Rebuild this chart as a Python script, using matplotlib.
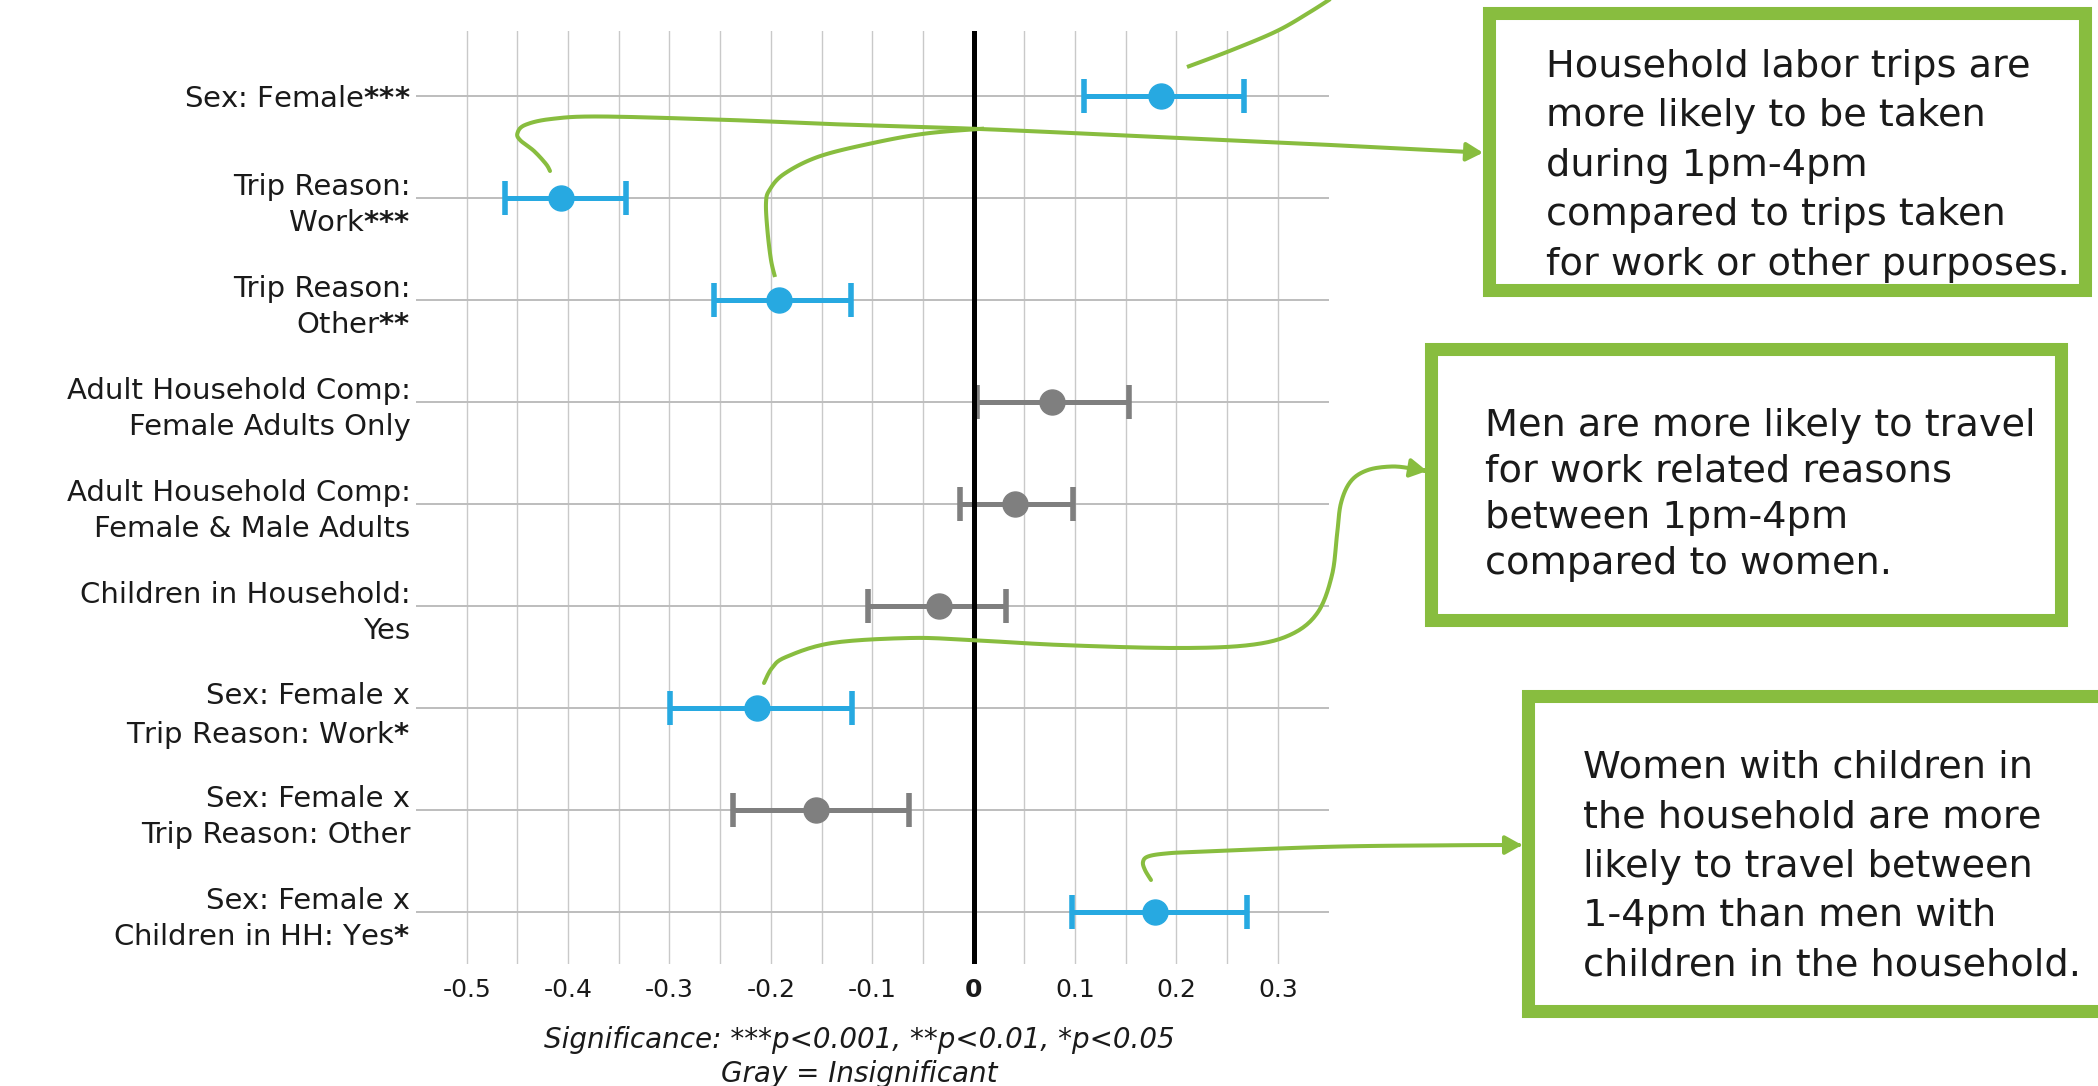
import numpy as np
import matplotlib.pyplot as plt
from matplotlib.patches import Rectangle, FancyArrowPatch
from matplotlib.path import Path
from matplotlib.transforms import Affine2D
from matplotlib.lines import Line2D

# ---- data ----
labels = [
    "Sex: Female$\\mathbf{{*}{*}{*}}$",
    "Trip Reason:\nWork$\\mathbf{{*}{*}{*}}$",
    "Trip Reason:\nOther$\\mathbf{{*}{*}}$",
    "Adult Household Comp:\nFemale Adults Only",
    "Adult Household Comp:\nFemale & Male Adults",
    "Children in Household:\nYes",
    "Sex: Female x\nTrip Reason: Work$\\mathbf{{*}}$",
    "Sex: Female x\nTrip Reason: Other",
    "Sex: Female x\nChildren in HH: Yes$\\mathbf{{*}}$",
]
coef = [0.185, -0.407, -0.192, 0.077, 0.041, -0.034, -0.214, -0.155, 0.179]
ci_low = [0.109, -0.462, -0.256, 0.003, -0.013, -0.104, -0.299, -0.237, 0.097]
ci_high = [0.267, -0.343, -0.121, 0.153, 0.098, 0.032, -0.120, -0.064, 0.270]
significant = [True, True, True, False, False, False, True, False, True]

xticks = [-0.5, -0.4, -0.3, -0.2, -0.1, 0, 0.1, 0.2, 0.3]
xticklabels = ["-0.5", "-0.4", "-0.3", "-0.2", "-0.1", "0", "0.1", "0.2", "0.3"]
xminor = [-0.45, -0.35, -0.25, -0.15, -0.05, 0.05, 0.15, 0.25]

notes = [
    "Household labor trips are\nmore likely to be taken\nduring 1pm-4pm\ncompared to trips taken\nfor work or other purposes.",
    "Men are more likely to travel\nfor work related reasons\nbetween 1pm-4pm\ncompared to women.",
    "Women with children in\nthe household are more\nlikely to travel between\n1-4pm than men with\nchildren in the household.",
]
caption = "Significance: ***p<0.001, **p<0.01, *p<0.05\nGray = Insignificant"

BLUE = "#27A9E1"
GRAY = "#7F7F7F"
GREEN = "#88BD3F"
TXT = "#1a1a1a"

W, H = 2098, 1086
plt.rcParams["font.family"] = ["DejaVu Sans"]
plt.rcParams["mathtext.fontset"] = "dejavusans"

fig = plt.figure(figsize=(W / 100, H / 100), dpi=100)
ax = fig.add_axes([416 / W, 1 - 964 / H, (1328.5 - 416) / W, (964 - 31) / H])

rows = np.arange(len(labels))
for i in rows:
    c = BLUE if significant[i] else GRAY
    ax.errorbar(coef[i], i, xerr=[[coef[i] - ci_low[i]], [ci_high[i] - coef[i]]],
                fmt="o", color=c, ms=18, elinewidth=3.6, capsize=12, capthick=4, zorder=4)

ax.axvline(0, color="black", lw=3.6, zorder=5)

ax.set_xlim(-0.55, 0.35)
ax.set_ylim(8.506, -0.641)
ax.set_yticks(rows, labels=labels, fontsize=21, color=TXT)
for t in ax.get_yticklabels():
    t.set_linespacing(1.34)
ax.set_xticks(xticks, labels=xticklabels, fontsize=18, color=TXT)
ax.set_xticks(xminor, minor=True)
ax.get_xticklabels()[5].set_fontweight("bold")
ax.tick_params(axis="both", which="both", length=0)
ax.tick_params(axis="x", pad=10)
ax.tick_params(axis="y", pad=4)
ax.grid(axis="x", which="both", color="#c9c9c9", lw=1.0, zorder=0)
ax.grid(axis="y", color="#bdbdbd", lw=1.4, zorder=0)
ax.set_axisbelow(True)
for s in ax.spines.values():
    s.set_visible(False)

fig.text(859 / W, 1 - 1057 / H, caption, ha="center", va="center", style="italic",
         fontsize=20, color=TXT, linespacing=1.25)

# ---- callouts (figure pixel coords, y from top) ----
tr = Affine2D().scale(1 / W, -1 / H).translate(0, 1) + fig.transFigure


def smooth(pts, n=14):
    p = np.array(pts, float)
    p = np.vstack([p[0], p, p[-1]])
    out = []
    t = np.linspace(0, 1, n, endpoint=False)[:, None]
    for k in range(1, len(p) - 2):
        p0, p1, p2, p3 = p[k - 1], p[k], p[k + 1], p[k + 2]
        out.append(0.5 * (2 * p1 + (-p0 + p2) * t + (2 * p0 - 5 * p1 + 4 * p2 - p3) * t ** 2
                          + (-p0 + 3 * p1 - 3 * p2 + p3) * t ** 3))
    out.append(p[-2][None])
    return np.vstack(out)


def curve(pts, arrow=False):
    v = smooth(pts)
    if arrow:
        fig.add_artist(FancyArrowPatch(path=Path(v), arrowstyle="-|>,head_length=0.5,head_width=0.28",
                                       mutation_scale=20, color=GREEN, lw=2.9, transform=tr, zorder=6))
    else:
        fig.add_artist(Line2D(v[:, 0], v[:, 1], color=GREEN, lw=2.9, transform=tr, zorder=6,
                              solid_capstyle="butt"))


curve([(1187, 67), (1232, 50), (1277, 31), (1310, 12), (1338, -6)])
curve([(550, 171), (546, 164), (534, 151), (520, 140), (517.5, 133), (525, 125), (551, 119),
       (601, 116.5), (730, 120), (837, 124.3), (970, 128.6), (1100, 134.3), (1300, 143.5),
       (1483, 152.7)], arrow=True)
curve([(775, 277), (771, 260), (767.5, 231), (766, 203), (769.5, 190), (784, 174), (819, 156.5),
       (873, 143), (926, 133.5), (984, 128.6)])
curve([(764, 683), (772, 668), (786, 657), (832, 643), (910, 638), (970, 640), (1061, 645),
       (1176, 648), (1250, 645), (1292, 634), (1318, 612), (1332, 575), (1337, 535), (1341, 503),
       (1351, 481), (1368, 470), (1392, 466.5), (1412, 468.5), (1427, 471)], arrow=True)
curve([(1151, 880), (1145, 870), (1143, 862), (1148, 856.5), (1166, 853.5), (1200, 851.7),
       (1333, 846.7), (1450, 845.3), (1522, 845)], arrow=True)

boxes = [(1489, 13, 596, 277), (1430.5, 348.5, 630, 271), (1527.5, 695.5, 583, 315.5)]
# left edge, baseline of the last text line, line spacing
text_pos = [(1546, 275, 1.485), (1485, 574, 1.36), (1583, 976, 1.485)]
for (x0, y0, w, h), (tx, ty, ls), note in zip(boxes, text_pos, notes):
    fig.add_artist(Rectangle((x0, y0), w, h, transform=tr, facecolor="white", edgecolor=GREEN,
                             lw=9.4, joinstyle="miter", zorder=1))
    fig.text(tx / W, 1 - ty / H, note, ha="left", va="baseline", fontsize=27.5, color=TXT,
             linespacing=ls, zorder=3)

fig.savefig("out.png", dpi=100)
